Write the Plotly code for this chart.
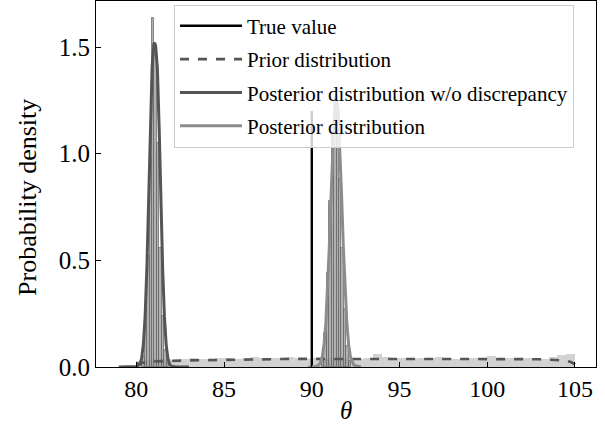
import plotly.graph_objects as go

# ---------------- data ----------------
true_value = 90.0
true_height = 1.2

# prior histogram (bin width 0.5, 80..105)
prior_bin_width = 0.5
prior_hist_centers = [80.25 + 0.5 * i for i in range(50)]
prior_hist_values = [0.030, 0.034, 0.036, 0.038, 0.035, 0.037, 0.040, 0.036, 0.038, 0.041,
                     0.043, 0.039, 0.044, 0.045, 0.042, 0.040, 0.043, 0.046, 0.041, 0.039,
                     0.042, 0.038, 0.040, 0.043, 0.041, 0.039, 0.044, 0.061, 0.045, 0.040,
                     0.042, 0.038, 0.044, 0.041, 0.047, 0.043, 0.039, 0.040, 0.042, 0.038,
                     0.050, 0.044, 0.041, 0.039, 0.043, 0.040, 0.037, 0.045, 0.058, 0.060]

# prior KDE (dashed)
prior_kde_x = [80.0, 80.5, 81.0, 81.5, 82.0, 83.0, 84.0, 85.0, 86.0, 87.0, 88.0, 89.0, 90.0,
               91.0, 92.0, 93.0, 94.0, 95.0, 96.0, 97.0, 98.0, 99.0, 100.0, 101.0, 102.0,
               103.0, 104.0, 104.5, 104.8, 105.0]
prior_kde_y = [0.014, 0.022, 0.026, 0.028, 0.030, 0.031, 0.032, 0.034, 0.036, 0.037, 0.037, 0.038,
               0.038, 0.038, 0.037, 0.037, 0.038, 0.039, 0.040, 0.040, 0.040, 0.039, 0.038, 0.037,
               0.037, 0.036, 0.034, 0.030, 0.022, 0.012]

# posterior w/o discrepancy histogram (bin width 0.14)
nodisc_bin_width = 0.14
nodisc_hist_centers = [80.40, 80.54, 80.68, 80.82, 80.96, 81.10, 81.24, 81.38, 81.52, 81.66, 81.80]
nodisc_hist_values = [0.05, 0.20, 0.52, 0.98, 1.634, 1.46, 1.05, 0.56, 0.24, 0.08, 0.02]

# posterior w/o discrepancy KDE
nodisc_kde_x = [79.0, 79.6, 80.0, 80.2, 80.3, 80.4, 80.5, 80.6, 80.7, 80.8, 80.9, 81.0, 81.05,
                81.1, 81.2, 81.3, 81.4, 81.5, 81.6, 81.7, 81.8, 81.9, 82.0, 82.3, 83.0]
nodisc_kde_y = [0.0, 0.0, 0.002, 0.012, 0.040, 0.105, 0.238, 0.465, 0.780, 1.130, 1.410, 1.515,
                1.520, 1.505, 1.400, 1.120, 0.770, 0.460, 0.235, 0.104, 0.040, 0.013, 0.004,
                0.0, 0.0]

# posterior histogram (bin width 0.14)
post_bin_width = 0.14
post_hist_centers = [90.64, 90.78, 90.92, 91.06, 91.20, 91.34, 91.48, 91.62, 91.76, 91.90, 92.04, 92.18]
post_hist_values = [0.04, 0.16, 0.44, 0.78, 1.10, 1.20, 1.18, 0.88, 0.56, 0.27, 0.10, 0.03]

# posterior KDE
post_kde_x = [89.8, 90.2, 90.4, 90.5, 90.6, 90.7, 90.8, 90.9, 91.0, 91.1, 91.2, 91.3, 91.36,
              91.4, 91.5, 91.6, 91.7, 91.8, 91.9, 92.0, 92.1, 92.2, 92.4, 92.8]
post_kde_y = [0.0, 0.002, 0.009, 0.022, 0.050, 0.108, 0.205, 0.360, 0.565, 0.805, 1.040, 1.210,
              1.270, 1.265, 1.205, 1.035, 0.800, 0.560, 0.355, 0.203, 0.105, 0.048, 0.008, 0.0]

x_ticks = [80, 85, 90, 95, 100, 105]
y_ticks = [0.0, 0.5, 1.0, 1.5]
x_label = "<i>θ</i>"
y_label = "Probability density"

# ---------------- figure ----------------
FONT = "Liberation Serif, Times New Roman, serif"
fig = go.Figure()

fig.add_trace(go.Bar(x=prior_hist_centers, y=prior_hist_values, width=prior_bin_width,
                     marker=dict(color="rgba(205,205,205,0.9)", line=dict(width=0)),
                     showlegend=False, hoverinfo="skip"))
fig.add_trace(go.Bar(x=nodisc_hist_centers, y=nodisc_hist_values, width=nodisc_bin_width,
                     marker=dict(color="rgba(150,150,150,0.75)",
                                 line=dict(color="rgba(100,100,100,0.7)", width=1)),
                     showlegend=False, hoverinfo="skip"))
fig.add_trace(go.Bar(x=post_hist_centers, y=post_hist_values, width=post_bin_width,
                     marker=dict(color="rgba(150,150,150,0.75)",
                                 line=dict(color="rgba(100,100,100,0.7)", width=1)),
                     showlegend=False, hoverinfo="skip"))

fig.add_trace(go.Scatter(x=[true_value, true_value], y=[0, true_height], mode="lines",
                         line=dict(color="black", width=2.4), name="True value",
                         legendgroup="a"))
fig.add_trace(go.Scatter(x=prior_kde_x, y=prior_kde_y, mode="lines",
                         line=dict(color="#555555", width=2.6, dash="dash"),
                         name="Prior distribution", legendgroup="b"))
fig.add_trace(go.Scatter(x=nodisc_kde_x, y=nodisc_kde_y, mode="lines",
                         line=dict(color="#555555", width=3),
                         name="Posterior distribution w/o discrepancy", legendgroup="c"))
fig.add_trace(go.Scatter(x=post_kde_x, y=post_kde_y, mode="lines",
                         line=dict(color="#8c8c8c", width=3),
                         name="Posterior distribution", legendgroup="d"))

fig.update_layout(
    width=605, height=428,
    margin=dict(l=96, r=9, t=1, b=61),
    paper_bgcolor="white", plot_bgcolor="white",
    barmode="overlay", bargap=0,
    font=dict(family=FONT, size=22, color="black"),
    legend=dict(x=0.156, y=0.99, xanchor="left", yanchor="top",
                bgcolor="rgba(255,255,255,0.8)", bordercolor="#cccccc", borderwidth=1,
                font=dict(family=FONT, size=21, color="black"),
                traceorder="grouped", tracegroupgap=3, itemwidth=62),
    xaxis=dict(range=[77.7, 106.2], tickvals=x_ticks, ticktext=[str(v) for v in x_ticks],
               ticks="inside", ticklen=5, tickcolor="black", showline=True, linecolor="black",
               linewidth=1.2, mirror=True, showgrid=False, zeroline=False,
               tickfont=dict(family=FONT, size=24)),
    yaxis=dict(range=[0, 1.716], tickvals=y_ticks, ticktext=[f"{v:.1f}" for v in y_ticks],
               ticks="inside", ticklen=5, tickcolor="black", showline=True, linecolor="black",
               linewidth=1.2, mirror=True, showgrid=False, zeroline=False,
               tickfont=dict(family=FONT, size=25)),
    annotations=[
        dict(text=x_label, xref="paper", yref="paper", x=0.5, y=-0.12,
             xanchor="center", yanchor="middle", showarrow=False,
             font=dict(family=FONT, size=25, color="black")),
        dict(text=y_label, xref="paper", yref="paper", x=-0.136, y=0.462,
             xanchor="center", yanchor="middle", showarrow=False, textangle=-90,
             font=dict(family=FONT, size=26, color="black")),
    ],
)

fig.write_html("out.html")
